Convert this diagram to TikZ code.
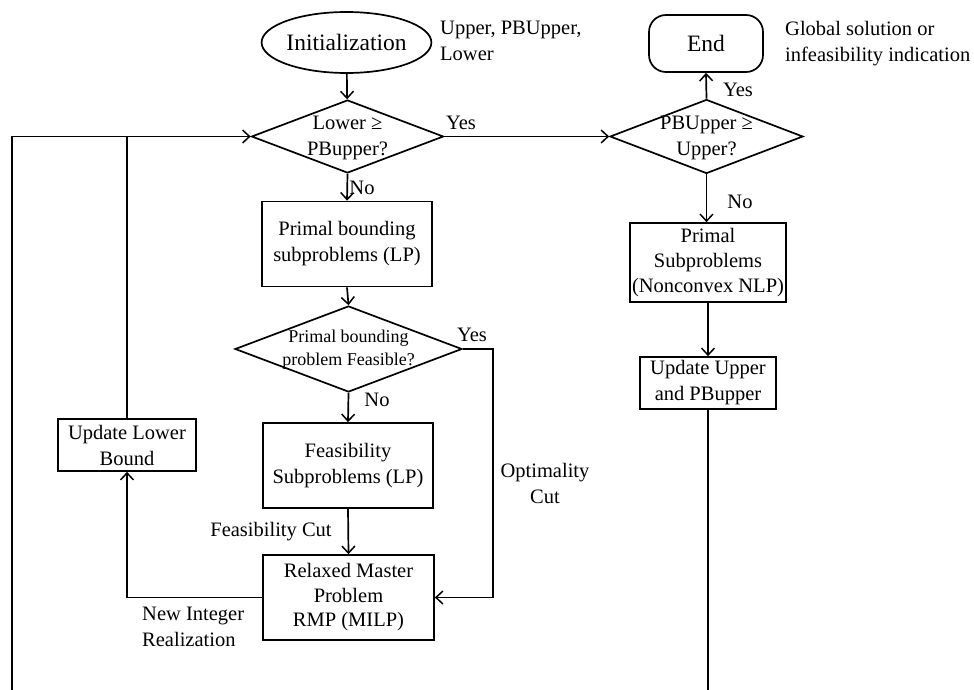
\documentclass[tikz,border=0pt]{standalone}
\usepackage{fontspec}
\setmainfont{Liberation Serif}
\usetikzlibrary{shapes.geometric,arrows.meta}
\tikzset{
  every node/.style={font=\fontsize{20.5}{26}\selectfont},
  line/.style={line width=1.7pt, draw=black},
  arr/.style={line width=1.7pt, -{Straight Barb[length=7pt,width=13pt,line width=1.5pt]}},
  proc/.style={draw, line width=1.7pt, rectangle, inner sep=0pt, align=center},
  decis/.style={draw, line width=1.7pt, diamond, inner sep=0pt},
  lbl/.style={inner sep=0pt, align=center},
  lbll/.style={inner sep=0pt, align=left, anchor=west}
}
\begin{document}
\begin{tikzpicture}[x=1pt,y=-1pt]
\useasboundingbox (0,0) rectangle (974,690);
% nodes
\node[draw, line width=1.7pt, ellipse, minimum width=167pt, minimum height=61pt, inner sep=0pt,
      font=\fontsize{23.5}{28}\selectfont] (init) at (346.5,42.5) {Initialization};
\node[lbll] (initnote) at (440,41) {Upper, PBUpper,\\Lower};
\node[draw, line width=1.7pt, rectangle, rounded corners=17pt, minimum width=114pt, minimum height=57pt,
      inner sep=0pt, font=\fontsize{23.5}{28}\selectfont] (endn) at (706,43.5) {End};
\node[lbll] (endnote) at (785,44) {Global solution or\\infeasibility indication};

\node[decis, minimum width=192pt, minimum height=73pt] (d1) at (347.5,136.5) {};
\node[lbl] (d1t) at (347.5,138) {Lower ≥\\PBupper?};
\node[decis, minimum width=193pt, minimum height=74pt] (d2) at (706.5,136.5) {};
\node[lbl] (d2t) at (706.5,138) {PBUpper ≥\\Upper?};

\node[proc, minimum width=170pt, minimum height=85pt] (pb) at (347,244) {Primal bounding\\subproblems (LP)};
\node[decis, minimum width=227pt, minimum height=86pt] (d3) at (348.5,349) {};
\node[lbl, font=\fontsize{18}{23}\selectfont] (d3t) at (348.5,350) {Primal bounding\\problem Feasible?};
\node[proc, minimum width=170pt, minimum height=85pt] (fs) at (348,465.5) {Feasibility\\Subproblems (LP)};
\node[proc, minimum width=171pt, minimum height=85pt, font=\fontsize{20.5}{24.5}\selectfont] (rmp) at (348.5,597.5) {Relaxed Master\\Problem\\RMP (MILP)};
\node[proc, minimum width=138pt, minimum height=52pt] (ulb) at (127,445) {Update Lower\\Bound};

\node[proc, minimum width=156pt, minimum height=79pt, font=\fontsize{20.5}{25}\selectfont] (ps) at (708,262.5) {Primal\\Subproblems\\(Nonconvex NLP)};
\node[proc, minimum width=136pt, minimum height=52pt] (uu) at (708,383) {Update Upper\\and PBupper};

% labels
\node[lbl] (y1) at (461,123) {Yes};
\node[lbl] (n1) at (362,188) {No};
\node[lbl] (y2) at (738,90) {Yes};
\node[lbl] (n2) at (740,202) {No};
\node[lbl] (y3) at (472,335) {Yes};
\node[lbl] (n3) at (377,400) {No};
\node[lbl] (fc) at (271,532) {Feasibility Cut};
\node[lbl] (oc) at (545,483) {Optimality\\Cut};
\node[lbll] (nir) at (142,627) {New Integer\\Realization};

% coordinates
\coordinate (ocorner) at (493,349);
\coordinate (jl) at (127,136.5);
\coordinate (bl) at (12,691);
\coordinate (br) at (708,691);

% connectors
\draw[arr] (init) -- (d1);
\draw[arr] (d1.south) -- (pb.north);
\draw[arr] (pb.south) -- (d3.north);
\draw[arr] (d3.south) -- (fs.north);
\draw[arr] (fs.south) -- (rmp.north);
\draw[arr] (d3.east) -- (ocorner) |- (rmp.east);
\draw[arr] (rmp.west) -| (ulb.south);
\draw[line] (ulb.north) -- (jl);
\draw[arr] (bl) |- (d1.west);
\draw[arr] (d1.east) -- (d2.west);
\draw[arr] (d2.north) -- (endn.south);
\draw[arr] (d2.south) -- (d2.south |- ps.north);
\draw[arr] (ps.south) -- (uu.north);
\draw[line] (uu.south) -- (br);
\end{tikzpicture}
\end{document}
